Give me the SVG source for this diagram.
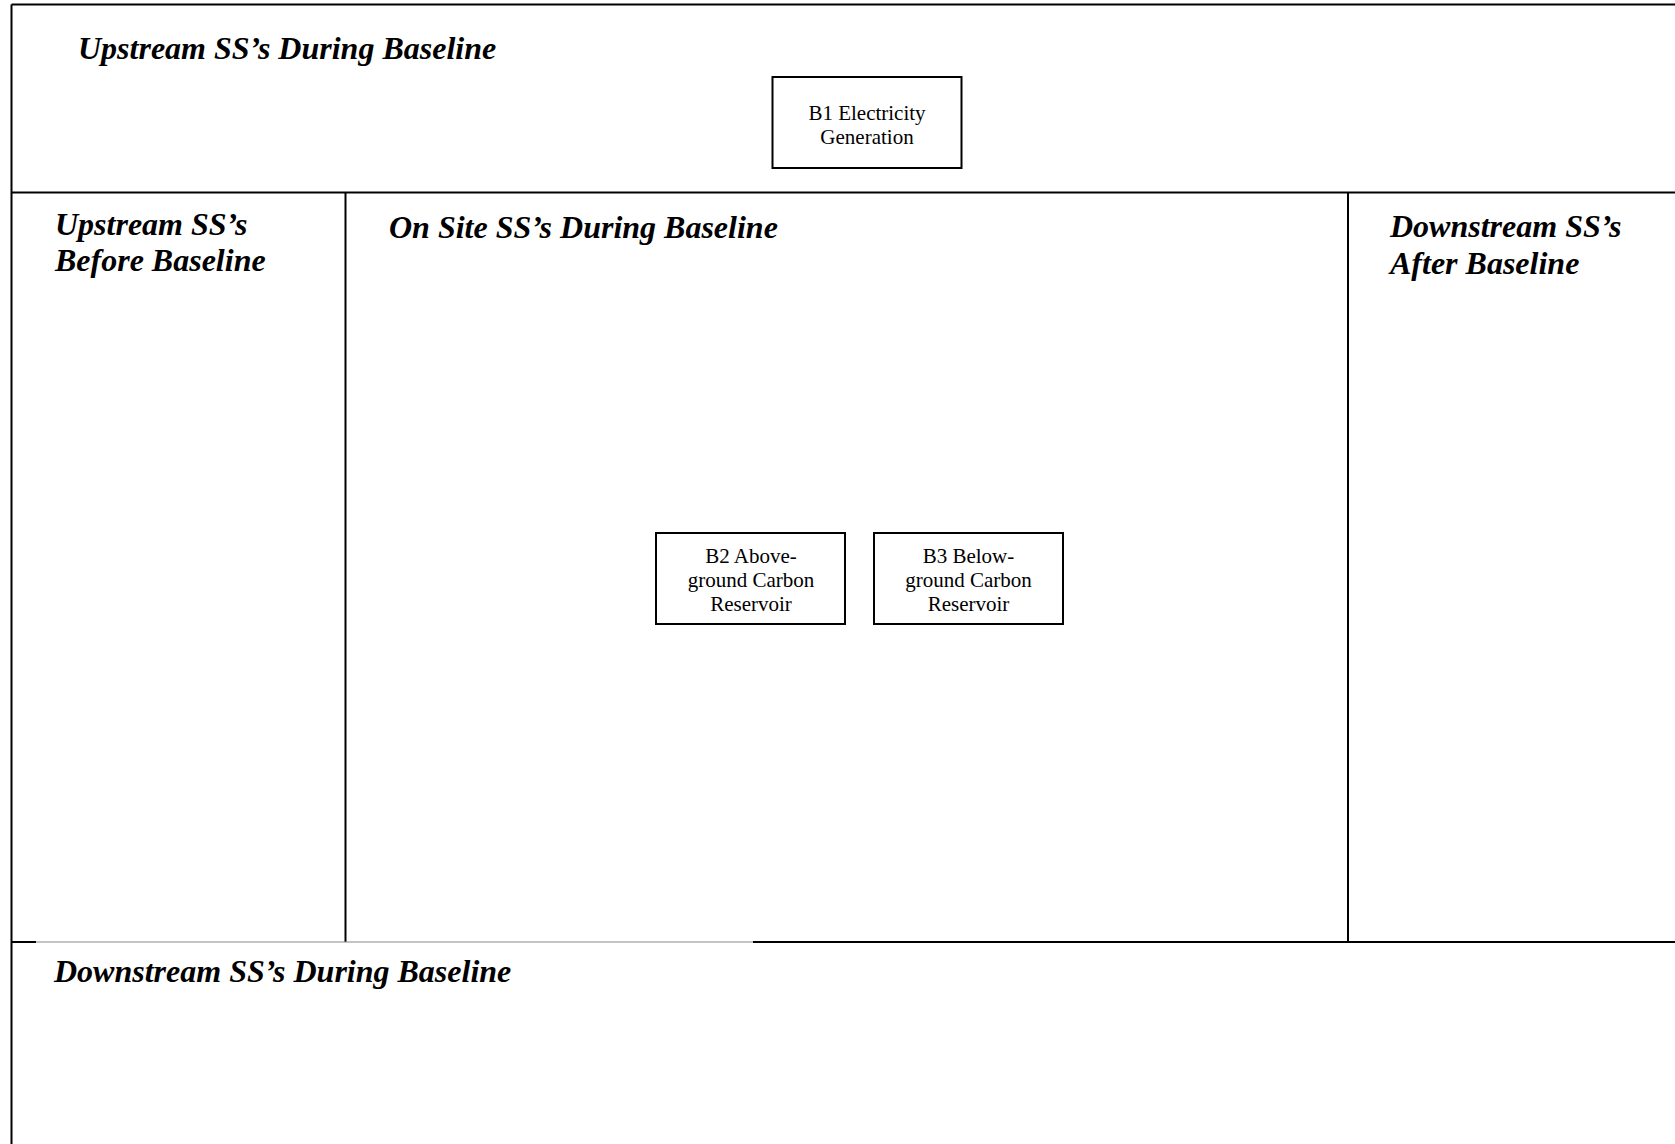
<svg xmlns="http://www.w3.org/2000/svg" width="1675" height="1144" viewBox="0 0 1675 1144">
<style>
.frame{stroke:#000;stroke-width:2;fill:none}
.thin{stroke:#888;stroke-width:1;fill:none}
.box{fill:#fff;stroke:#000;stroke-width:2}
.title{font-family:"Liberation Serif","Times New Roman",serif;font-size:32px;font-weight:bold;font-style:italic;fill:#000}
.lbl{font-family:"Liberation Serif","Times New Roman",serif;font-size:21px;fill:#000;text-anchor:middle}
</style>
<rect width="1675" height="1144" fill="#fff"/>
<g id="frame">
<line class="frame" x1="11.5" y1="4.5" x2="1675" y2="4.5"/>
<line class="frame" x1="11.5" y1="4.5" x2="11.5" y2="1144"/>
<line class="frame" x1="11.5" y1="192.5" x2="1675" y2="192.5"/>
<line class="frame" x1="345.5" y1="192.5" x2="345.5" y2="942"/>
<line class="frame" x1="1348" y1="192.5" x2="1348" y2="942"/>
<line class="frame" x1="11.5" y1="942" x2="36" y2="942"/>
<line class="thin" x1="36" y1="942" x2="753" y2="942"/>
<line class="frame" x1="753" y1="942" x2="1675" y2="942"/>
</g>
<g id="section-titles">
<text class="title" x="78" y="59">Upstream SS’s During Baseline</text>
<text class="title" x="55" y="235">Upstream SS’s</text>
<text class="title" x="55" y="271">Before Baseline</text>
<text class="title" x="389" y="238">On Site SS’s During Baseline</text>
<text class="title" x="1390" y="237">Downstream SS’s</text>
<text class="title" x="1390" y="274">After Baseline</text>
<text class="title" x="54" y="982">Downstream SS’s During Baseline</text>
</g>
<g id="connectors"/>
<g id="B1">
<rect class="box" x="772.5" y="77" width="189" height="91"/>
<text class="lbl" x="867" y="120">B1 Electricity</text>
<text class="lbl" x="867" y="144">Generation</text>
</g>
<g id="B2">
<rect class="box" x="656" y="533" width="189" height="91"/>
<text class="lbl" x="751" y="563">B2 Above-</text>
<text class="lbl" x="751" y="587">ground Carbon</text>
<text class="lbl" x="751" y="611">Reservoir</text>
</g>
<g id="B3">
<rect class="box" x="874" y="533" width="189" height="91"/>
<text class="lbl" x="968.5" y="563">B3 Below-</text>
<text class="lbl" x="968.5" y="587">ground Carbon</text>
<text class="lbl" x="968.5" y="611">Reservoir</text>
</g>
</svg>
